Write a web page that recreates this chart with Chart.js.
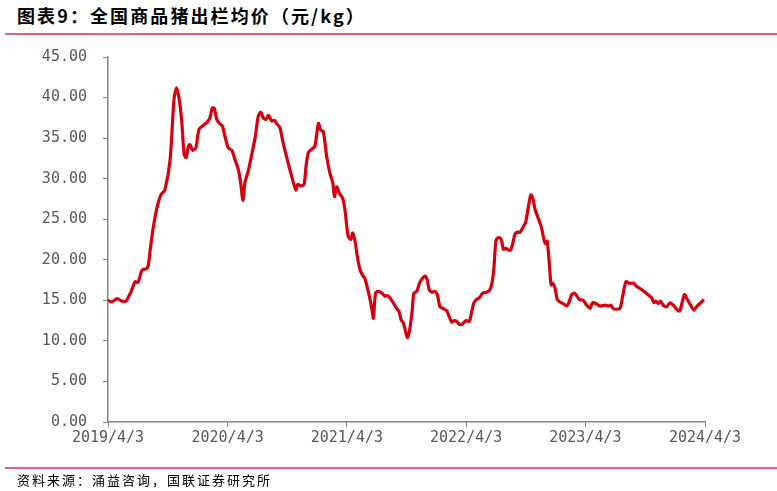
<!DOCTYPE html>
<html>
<head>
<meta charset="utf-8">
<script src="https://cdn.jsdelivr.net/npm/chart.js@4.4.1/dist/chart.umd.min.js"></script>
<style>
  html, body { margin: 0; padding: 0; background: #fff; }
  body { width: 777px; height: 491px; position: relative; overflow: hidden; }
  #title {
    position: absolute; left: 17px; top: 2px;
    font: bold 18px "Noto Sans CJK SC", sans-serif; letter-spacing: 2.1px; color: #000;
  }
  .rule { position: absolute; left: 5px; right: 0; height: 2px; background: #e0607a; }
  #footer {
    position: absolute; left: 17px; top: 470px;
    font: 13px "Noto Sans CJK SC", sans-serif; letter-spacing: 2px; color: #000;
  }
  #wrap { position: absolute; left: 0; top: 0; width: 777px; height: 491px; }
</style>
</head>
<body>
<div id="title">图表9：全国商品猪出栏均价（元/kg）</div>
<div class="rule" style="top:33px"></div>
<div id="wrap"><canvas id="chart"></canvas></div>
<div class="rule" style="top:467px"></div>
<div id="footer">资料来源：涌益咨询，国联证券研究所</div>

<script>
// weekly-ish readings of the national hog price, 元/kg
const dates = [
    '2019-04-03', '2019-04-15', '2019-05-01', '2019-05-16', '2019-05-28', '2019-06-03', '2019-06-12', '2019-06-25',
    '2019-07-04', '2019-07-16', '2019-08-02', '2019-08-10', '2019-08-20', '2019-09-01', '2019-09-12', '2019-09-24',
    '2019-10-10', '2019-10-22', '2019-10-30', '2019-11-07', '2019-11-15', '2019-11-22', '2019-11-28', '2019-12-05',
    '2019-12-10', '2019-12-18', '2019-12-28', '2020-01-07', '2020-01-30', '2020-02-09', '2020-02-16', '2020-02-22',
    '2020-03-01', '2020-03-09', '2020-03-18', '2020-03-26', '2020-04-05', '2020-04-16', '2020-04-26', '2020-05-06',
    '2020-05-13', '2020-05-20', '2020-05-26', '2020-06-05', '2020-06-16', '2020-06-26', '2020-07-06', '2020-07-14',
    '2020-07-21', '2020-07-29', '2020-08-06', '2020-08-16', '2020-08-24', '2020-08-31', '2020-09-10', '2020-09-20',
    '2020-10-03', '2020-10-16', '2020-10-29', '2020-11-04', '2020-11-13', '2020-11-23', '2020-11-29', '2020-12-06',
    '2020-12-16', '2020-12-26', '2021-01-06', '2021-01-13', '2021-01-21', '2021-01-31', '2021-02-10', '2021-02-19',
    '2021-02-24', '2021-03-03', '2021-03-11', '2021-03-21', '2021-03-28', '2021-04-07', '2021-04-15', '2021-04-21',
    '2021-04-28', '2021-05-05', '2021-05-13', '2021-05-21', '2021-05-28', '2021-06-05', '2021-06-13', '2021-06-19',
    '2021-06-23', '2021-06-30', '2021-07-08', '2021-07-19', '2021-07-29', '2021-08-05', '2021-08-13', '2021-08-23',
    '2021-09-02', '2021-09-10', '2021-09-16', '2021-09-23', '2021-09-30', '2021-10-06', '2021-10-13', '2021-10-20',
    '2021-10-25', '2021-11-03', '2021-11-11', '2021-11-20', '2021-11-28', '2021-12-05', '2021-12-11', '2021-12-19',
    '2021-12-29', '2022-01-05', '2022-01-13', '2022-01-23', '2022-02-03', '2022-02-10', '2022-02-18', '2022-02-25',
    '2022-03-05', '2022-03-15', '2022-03-23', '2022-04-03', '2022-04-13', '2022-04-20', '2022-04-27', '2022-05-05',
    '2022-05-13', '2022-05-24', '2022-06-05', '2022-06-13', '2022-06-20', '2022-06-27', '2022-07-03', '2022-07-09',
    '2022-07-16', '2022-07-21', '2022-07-26', '2022-08-03', '2022-08-10', '2022-08-17', '2022-08-23', '2022-08-30',
    '2022-09-06', '2022-09-15', '2022-09-25', '2022-10-02', '2022-10-10', '2022-10-18', '2022-10-24', '2022-10-31',
    '2022-11-10', '2022-11-20', '2022-11-27', '2022-12-02', '2022-12-07', '2022-12-13', '2022-12-19', '2022-12-24',
    '2022-12-31', '2023-01-07', '2023-01-15', '2023-01-25', '2023-02-05', '2023-02-13', '2023-02-20', '2023-02-28',
    '2023-03-07', '2023-03-15', '2023-03-27', '2023-04-07', '2023-04-17', '2023-04-25', '2023-05-05', '2023-05-18',
    '2023-06-02', '2023-06-12', '2023-06-20', '2023-06-27', '2023-07-08', '2023-07-18', '2023-07-26', '2023-08-05',
    '2023-08-15', '2023-08-28', '2023-09-07', '2023-09-19', '2023-10-02', '2023-10-15', '2023-10-23', '2023-10-30',
    '2023-11-05', '2023-11-12', '2023-11-19', '2023-11-27', '2023-12-08', '2023-12-18', '2023-12-28', '2024-01-07',
    '2024-01-17', '2024-01-31', '2024-02-09', '2024-02-19', '2024-02-29', '2024-03-10', '2024-03-21', '2024-03-31'
];
const prices = [
    15.0, 14.8, 15.2, 14.9, 14.9, 15.3, 16.0, 17.3,
    17.2, 18.7, 19.0, 21.2, 24.1, 26.6, 28.0, 28.6,
    32.3, 39.8, 41.2, 39.8, 36.9, 33.0, 32.6, 34.0,
    34.2, 33.5, 33.8, 36.1, 36.9, 37.5, 38.7, 38.7,
    37.3, 36.8, 36.5, 35.2, 33.8, 33.5, 32.3, 31.1,
    29.5, 27.3, 29.5, 30.9, 33.0, 35.0, 37.7, 38.2,
    37.5, 37.3, 37.8, 37.1, 37.2, 36.8, 36.3, 34.4,
    32.3, 30.3, 28.6, 29.3, 29.1, 29.3, 31.5, 33.2,
    33.6, 34.0, 36.8, 36.0, 35.8, 32.8, 30.7, 29.5,
    27.8, 29.0, 28.2, 27.6, 26.2, 22.9, 22.5, 23.3,
    22.3, 20.4, 18.8, 18.1, 17.7, 16.5, 15.1, 13.8,
    12.8, 15.9, 16.1, 15.9, 15.5, 15.6, 15.3, 14.7,
    14.0, 13.6, 12.6, 12.2, 11.1, 10.4, 11.6, 13.8,
    15.9, 16.1, 17.1, 17.7, 18.0, 17.5, 16.3, 16.0,
    16.1, 15.7, 14.2, 14.0, 13.7, 13.0, 12.3, 12.5,
    12.4, 12.0, 12.1, 12.5, 12.4, 13.6, 14.7, 15.1,
    15.3, 15.9, 16.0, 16.2, 16.9, 19.0, 22.3, 22.7,
    22.7, 22.3, 21.3, 21.4, 21.2, 21.2, 21.9, 23.1,
    23.4, 23.4, 24.1, 24.6, 26.4, 28.0, 27.6, 26.2,
    25.1, 23.9, 22.5, 22.0, 22.3, 19.8, 16.9, 17.1,
    16.5, 15.1, 14.8, 14.6, 14.3, 14.9, 15.7, 15.9,
    15.6, 15.1, 15.0, 14.4, 14.0, 14.7, 14.6, 14.3,
    14.4, 14.3, 14.4, 14.0, 13.9, 14.0, 15.5, 17.3,
    17.1, 17.1, 16.7, 16.4, 16.0, 15.6, 15.3, 14.7,
    14.9, 14.6, 14.9, 14.4, 14.2, 14.7, 14.4, 13.9,
    13.7, 15.7, 15.1, 14.4, 13.8, 14.3, 14.7, 15.1
];
const tickDates = ['2019-04-03', '2020-04-03', '2021-04-03', '2022-04-03', '2023-04-03', '2024-04-03'];
const tickLabels = ['2019/4/3', '2020/4/3', '2021/4/3', '2022/4/3', '2023/4/3', '2024/4/3'];

function dayOffset(s) {
    const [y, m, d] = s.split('-').map(Number);
    return (Date.UTC(y, m - 1, d) - Date.UTC(2019, 3, 3)) / 86400000;
}

const points = dates.map((d, i) => ({ x: dayOffset(d), y: prices[i] }));
const tickValues = tickDates.map(dayOffset);

const axisColor = '#868686';
const tickFont = { family: '"DejaVu Sans Mono", monospace', size: 15 };

new Chart(document.getElementById('chart'), {
    type: 'line',
    data: {
        datasets: [{
            data: points,
            borderColor: '#d7000f',
            borderWidth: 3.2,
            pointRadius: 0,
            tension: 0.25,
            fill: false
        }]
    },
    options: {
        responsive: true,
        maintainAspectRatio: false,
        animation: false,
        layout: { padding: { left: 0, right: 72, top: 57, bottom: 0 } },
        plugins: { legend: { display: false }, tooltip: { enabled: false } },
        scales: {
            x: {
                type: 'linear',
                min: tickValues[0],
                max: tickValues[tickValues.length - 1],
                afterBuildTicks: (scale) => {
                    scale.ticks = tickValues.map(v => ({ value: v }));
                },
                afterFit: (scale) => { scale.height = 69; },
                ticks: {
                    autoSkip: false,
                    maxRotation: 0,
                    color: '#595959',
                    font: tickFont,
                    padding: 2,
                    callback: (value) => tickLabels[tickValues.indexOf(value)]
                },
                grid: { drawOnChartArea: false, drawTicks: true, tickLength: 5, color: axisColor },
                border: { display: true, color: axisColor, width: 1.5 }
            },
            y: {
                min: 0,
                max: 45,
                afterFit: (scale) => { scale.width = 108; },
                ticks: {
                    stepSize: 5,
                    color: '#595959',
                    font: tickFont,
                    padding: 16,
                    callback: (value) => value.toFixed(2)
                },
                grid: { drawOnChartArea: false, drawTicks: true, tickLength: 5, color: axisColor },
                border: { display: true, color: axisColor, width: 1.5 }
            }
        }
    }
});
</script>
</body>
</html>
